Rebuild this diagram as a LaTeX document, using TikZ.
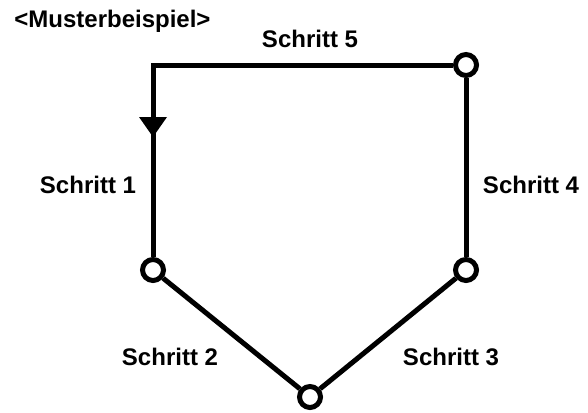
\documentclass[tikz,border=0pt]{standalone}
\usepackage{fontspec}
\setmainfont{Liberation Sans}
\begin{document}
\begin{tikzpicture}[x=0.5pt,y=-0.5pt,
  line/.style={line width=2.5pt, line join=miter},
  station/.style={circle, draw, line width=2.5pt, fill=white, minimum size=10.5pt, inner sep=0pt},
  lbl/.style={font=\fontsize{12}{14}\selectfont\bfseries, inner sep=0pt, anchor=base}]
\useasboundingbox (0,0) rectangle (588,412);
\coordinate (tl) at (153,65);
\node[station] (tr) at (466,65) {};
\node[station] (bl) at (153,270) {};
\node[station] (br) at (466,270) {};
\node[station] (bm) at (310,397) {};
\coordinate (arr) at (153,137);
\draw[line] (tr) -- (tl) -- (bl);
\draw[line] (bl) -- (bm);
\draw[line] (bm) -- (br);
\draw[line] (br) -- (tr);
\fill ([shift={(-14,-20)}]arr) -- ([shift={(14,-20)}]arr) -- (arr) -- cycle;
\node[lbl, anchor=base west] (title) at (14,27) {<Musterbeispiel>};
\node[lbl] (s5) at (310,47) {Schritt 5};
\node[lbl] (s1) at (88,193) {Schritt 1};
\node[lbl] (s4) at (531,193) {Schritt 4};
\node[lbl] (s2) at (170,365) {Schritt 2};
\node[lbl] (s3) at (451,365) {Schritt 3};
\end{tikzpicture}
\end{document}
